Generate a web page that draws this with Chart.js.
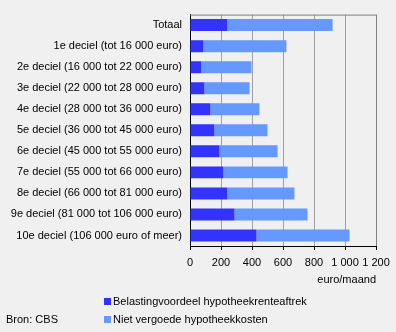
<!DOCTYPE html>
<html>
<head>
<meta charset="utf-8">
<script src="https://cdn.jsdelivr.net/npm/chart.js@4.4.1/dist/chart.umd.min.js"></script>
<style>
  html, body { margin: 0; padding: 0; background: #f0f0f0; }
  #wrap { position: relative; width: 396px; height: 332px; overflow: hidden; font-family: "Liberation Sans", Arial, sans-serif; font-size: 11px; color: #000; }
  #c { position: absolute; left: 0; top: 0; }
  .leg { position: absolute; left: 104px; height: 14px; line-height: 14px; white-space: nowrap; }
  .sw { display: inline-block; width: 7px; height: 7px; margin-right: 2px; vertical-align: 0px; }
  #src { position: absolute; left: 6px; top: 312px; line-height: 14px; }
</style>
</head>
<body>
<div id="wrap">
  <canvas id="c" width="396" height="332"></canvas>
  <div class="leg" style="top:294px"><span class="sw" style="background:#3333ff"></span>Belastingvoordeel hypotheekrenteaftrek</div>
  <div class="leg" style="top:312px"><span class="sw" style="background:#6699ff"></span>Niet vergoede hypotheekkosten</div>
  <div id="src">Bron: CBS</div>
</div>
<script>
const categories = [
  "Totaal",
  "1e deciel (tot 16 000 euro)",
  "2e deciel (16 000 tot 22 000 euro)",
  "3e deciel (22 000 tot 28 000 euro)",
  "4e deciel (28 000 tot 36 000 euro)",
  "5e deciel (36 000 tot 45 000 euro)",
  "6e deciel (45 000 tot 55 000 euro)",
  "7e deciel (55 000 tot 66 000 euro)",
  "8e deciel (66 000 tot 81 000 euro)",
  "9e deciel (81 000 tot 106 000 euro)",
  "10e deciel (106 000 euro of meer)"
];
const belastingvoordeel = [241, 86, 73, 93, 131, 157, 190, 215, 241, 287, 429];
const nietVergoed = [679, 536, 324, 291, 317, 343, 375, 414, 433, 471, 600];
const seriesNames = ["Belastingvoordeel hypotheekrenteaftrek", "Niet vergoede hypotheekkosten"];
const xTicks = [0, 200, 400, 600, 800, 1000, 1200];
const axisTitle = "euro/maand";

const FONT = { family: "'Liberation Sans', Arial, sans-serif", size: 11 };

const borderPlugin = {
  id: 'frame',
  afterDraw(chart) {
    const a = chart.chartArea, ctx = chart.ctx;
    ctx.save();
    ctx.strokeStyle = '#808080';
    ctx.lineWidth = 1;
    ctx.beginPath();
    ctx.moveTo(a.left, a.top + 0.5);
    ctx.lineTo(a.right + 0.5, a.top + 0.5);
    ctx.lineTo(a.right + 0.5, a.bottom);
    ctx.stroke();
    ctx.restore();
  }
};

new Chart(document.getElementById('c'), {
  type: 'bar',
  data: {
    labels: categories,
    datasets: [
      { label: seriesNames[0], data: belastingvoordeel, backgroundColor: '#3333ff', barPercentage: 0.57, categoryPercentage: 1 },
      { label: seriesNames[1], data: nietVergoed, backgroundColor: '#6699ff', barPercentage: 0.57, categoryPercentage: 1 }
    ]
  },
  options: {
    indexAxis: 'y',
    responsive: false,
    animation: false,
    layout: { padding: { left: 0, right: 20, top: 13, bottom: 41 } },
    plugins: { legend: { display: false }, tooltip: { enabled: false } },
    scales: {
      x: {
        stacked: true,
        min: 0, max: 1200,
        afterBuildTicks(scale) { scale.ticks = xTicks.map(v => ({ value: v })); },
        afterFit(scale) { scale.height = 45; },
        border: { color: '#000', width: 1 },
        grid: {
          color: ctx => (ctx.tick && ctx.tick.value === 1200) ? '#808080' : '#a0a0a0',
          tickColor: '#000',
          tickLength: 4,
          drawOnChartArea: true
        },
        ticks: {
          color: '#000', font: FONT, padding: 6, maxRotation: 0,
          callback: v => String(v).replace(/\B(?=(\d{3})+(?!\d))/g, ' ')
        },
        title: { display: true, text: axisTitle, align: 'end', color: '#000', font: FONT, padding: { top: 2, bottom: 4 } }
      },
      y: {
        stacked: true,
        afterFit(scale) { scale.width = 190; },
        border: { color: '#000', width: 1 },
        grid: { display: false, drawTicks: false },
        ticks: { color: '#000', font: FONT, padding: 8, autoSkip: false }
      }
    }
  },
  plugins: [borderPlugin]
});
</script>
</body>
</html>
